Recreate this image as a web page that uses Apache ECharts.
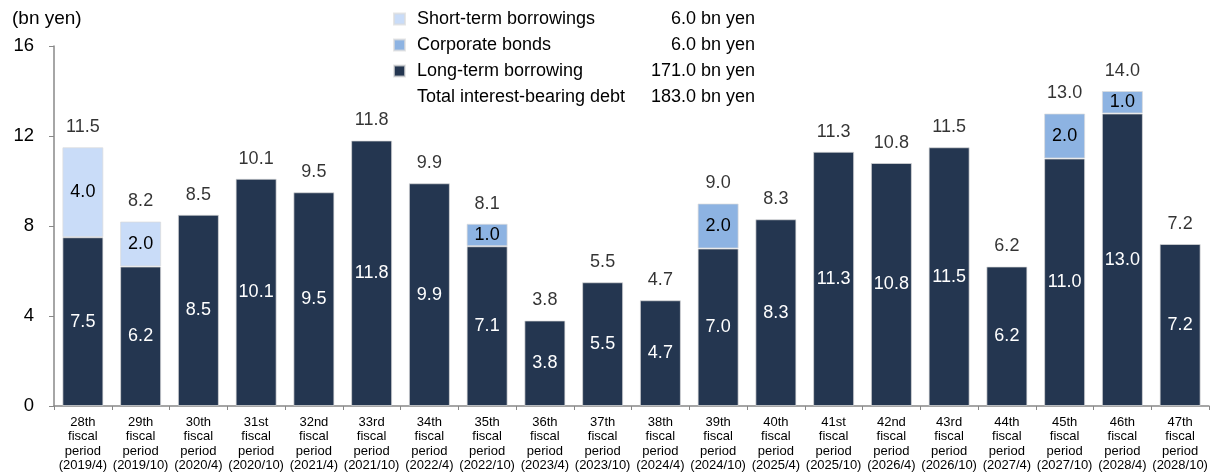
<!DOCTYPE html>
<html>
<head>
<meta charset="utf-8">
<script src="https://cdn.jsdelivr.net/npm/echarts@6/dist/echarts.min.js"></script>
<style>
  html, body { margin: 0; padding: 0; background: #fff; }
  #chart { width: 1213px; height: 476px; }
</style>
</head>
<body>
<div id="chart"></div>
<script>
  const categories = [
    '28th\nfiscal\nperiod\n(2019/4)', '29th\nfiscal\nperiod\n(2019/10)', '30th\nfiscal\nperiod\n(2020/4)',
    '31st\nfiscal\nperiod\n(2020/10)', '32nd\nfiscal\nperiod\n(2021/4)', '33rd\nfiscal\nperiod\n(2021/10)',
    '34th\nfiscal\nperiod\n(2022/4)', '35th\nfiscal\nperiod\n(2022/10)', '36th\nfiscal\nperiod\n(2023/4)',
    '37th\nfiscal\nperiod\n(2023/10)', '38th\nfiscal\nperiod\n(2024/4)', '39th\nfiscal\nperiod\n(2024/10)',
    '40th\nfiscal\nperiod\n(2025/4)', '41st\nfiscal\nperiod\n(2025/10)', '42nd\nfiscal\nperiod\n(2026/4)',
    '43rd\nfiscal\nperiod\n(2026/10)', '44th\nfiscal\nperiod\n(2027/4)', '45th\nfiscal\nperiod\n(2027/10)',
    '46th\nfiscal\nperiod\n(2028/4)', '47th\nfiscal\nperiod\n(2028/10)'
  ]
  const longTerm = [7.5, 6.2, 8.5, 10.1, 9.5, 11.8, 9.9, 7.1, 3.8, 5.5, 4.7, 7.0, 8.3, 11.3, 10.8, 11.5, 6.2, 11.0, 13.0, 7.2]
  const shortTerm = [4.0, 2.0, 0, 0, 0, 0, 0, 0, 0, 0, 0, 0, 0, 0, 0, 0, 0, 0, 0, 0]
  const bonds = [0, 0, 0, 0, 0, 0, 0, 1.0, 0, 0, 0, 2.0, 0, 0, 0, 0, 0, 2.0, 1.0, 0]
  const totals = [11.5, 8.2, 8.5, 10.1, 9.5, 11.8, 9.9, 8.1, 3.8, 5.5, 4.7, 9.0, 8.3, 11.3, 10.8, 11.5, 6.2, 13.0, 14.0, 7.2]
  const yTicks = [0, 4, 8, 12, 16]

  const legendRows = [
    ['Short-term borrowings', '6.0 bn yen'],
    ['Corporate bonds', '6.0 bn yen'],
    ['Long-term borrowing', '171.0 bn yen'],
    ['Total interest-bearing debt', '183.0 bn yen']
  ]

  const font = '"Liberation Sans", Arial, sans-serif'
  const colors = {
    short: '#c9dcf8',
    bonds: '#8db3e2',
    long: '#243650'
  }

  // zero segments are left empty so they draw nothing
  const noZero = arr => arr.map(v => v || '-')
  const fmt = p => p.value.toFixed(1)

  let barBase = {
    type: 'bar',
    stack: 'debt',
    barWidth: 41,
    itemStyle: {
      borderColor: 'rgba(220,220,220,0.7)',
      borderWidth: 1
    },
    label: {
      show: true,
      position: 'inside',
      fontFamily: font,
      fontSize: 18,
      formatter: fmt
    }
  }

  let series = [
    Object.assign({}, barBase, {
      name: 'Long-term borrowing',
      data: longTerm,
      itemStyle: Object.assign({}, barBase.itemStyle, { color: colors.long }),
      label: Object.assign({}, barBase.label, { color: '#fff' })
    }),
    Object.assign({}, barBase, {
      name: 'Corporate bonds',
      data: noZero(bonds),
      itemStyle: Object.assign({}, barBase.itemStyle, { color: colors.bonds }),
      label: Object.assign({}, barBase.label, { color: '#000' })
    }),
    Object.assign({}, barBase, {
      name: 'Short-term borrowings',
      data: noZero(shortTerm),
      itemStyle: Object.assign({}, barBase.itemStyle, { color: colors.short }),
      label: Object.assign({}, barBase.label, { color: '#000' })
    }),
    {
      name: 'total',
      type: 'scatter',
      data: totals,
      symbolSize: 0,
      silent: true,
      label: {
        show: true,
        position: 'top',
        distance: 11,
        color: '#000',
        fontFamily: font,
        fontSize: 18,
        formatter: fmt
      }
    }
  ]

  // legend values and the total row are plain text next to the legend
  const rowY = [19, 45, 71, 97]
  let graphic = [{
    type: 'text',
    x: 12,
    y: 19,
    style: { text: '(bn yen)', font: '19px ' + font, fill: '#000', textVerticalAlign: 'middle' }
  }]
  legendRows.forEach((r, i) => {
    graphic.push({
      type: 'text',
      x: 755,
      y: rowY[i],
      style: { text: r[1], font: '18px ' + font, fill: '#000', textAlign: 'right', textVerticalAlign: 'middle' }
    })
  })
  graphic.push({
    type: 'text',
    x: 417,
    y: rowY[3],
    style: { text: legendRows[3][0], font: '18px ' + font, fill: '#000', textVerticalAlign: 'middle' }
  })

  let option = {
    animation: false,
    textStyle: { fontFamily: font },
    grid: { left: 54, right: 4, top: 46, bottom: 70, containLabel: false },
    legend: {
      data: ['Short-term borrowings', 'Corporate bonds', 'Long-term borrowing'],
      orient: 'vertical',
      left: 393,
      top: 9,
      padding: 0,
      itemWidth: 11,
      itemHeight: 11,
      itemGap: 6,
      icon: 'rect',
      textStyle: { fontSize: 18, lineHeight: 20, color: '#000', fontFamily: font, padding: [0, 0, 0, 7] }
    },
    graphic: graphic,
    xAxis: {
      type: 'category',
      data: categories,
      axisLine: { lineStyle: { color: '#888', width: 1.5 } },
      axisTick: { show: true, length: 4, lineStyle: { color: '#888' } },
      axisLabel: {
        interval: 0,
        color: '#000',
        fontSize: 13,
        lineHeight: 14.5,
        margin: 9,
        fontFamily: font
      }
    },
    yAxis: {
      type: 'value',
      min: yTicks[0],
      max: yTicks[yTicks.length - 1],
      interval: 4,
      axisLine: { show: true, lineStyle: { color: '#888', width: 1.5 } },
      axisTick: { show: true, length: 5, lineStyle: { color: '#888' } },
      splitLine: { show: false },
      axisLabel: { color: '#000', fontSize: 18.5, margin: 20, fontFamily: font }
    },
    series: series
  }

  let chart = echarts.init(document.getElementById('chart'))
  chart.setOption(option)
</script>
</body>
</html>
